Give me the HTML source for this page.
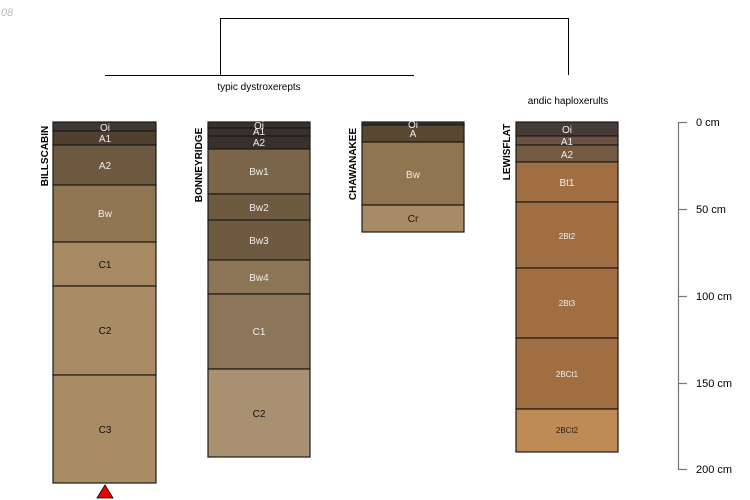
<!DOCTYPE html>
<html><head><meta charset="utf-8"><style>
html,body{margin:0;padding:0;background:#fff;}
svg{display:block;font-family:"Liberation Sans",sans-serif;}
</style></head><body>
<svg width="750" height="500" viewBox="0 0 750 500" xmlns="http://www.w3.org/2000/svg">
<text x="-2" y="16" font-size="11" fill="#bbb" font-style="italic">.08</text>
<!-- dendrogram -->
<g stroke="#000" stroke-width="1" fill="none">
<line x1="105" y1="75.5" x2="414" y2="75.5"/>
<line x1="220.5" y1="18" x2="220.5" y2="75"/>
<line x1="220" y1="18.5" x2="568" y2="18.5"/>
<line x1="568.5" y1="18" x2="568.5" y2="75"/>
</g>
<text x="259" y="90" font-size="10" text-anchor="middle">typic dystroxerepts</text>
<text x="568" y="104" font-size="10" text-anchor="middle">andic haploxerults</text>

<g stroke="#1a1a1a" stroke-width="1.2" font-size="10" text-anchor="middle">
<!-- Billscabin -->
<rect x="53" y="122" width="103" height="9" fill="#3f3731"/>
<rect x="53" y="131" width="103" height="14" fill="#4f4030"/>
<rect x="53" y="145" width="103" height="40" fill="#6c5940"/>
<rect x="53" y="185" width="103" height="57" fill="#8f7550"/>
<rect x="53" y="242" width="103" height="44" fill="#a88a62"/>
<rect x="53" y="286" width="103" height="89" fill="#a98c65"/>
<rect x="53" y="375" width="103" height="108" fill="#a98b64"/>
<!-- Bonneyridge -->
<rect x="208" y="122" width="102" height="6" fill="#3a302a"/>
<rect x="208" y="128" width="102" height="8" fill="#3a302a"/>
<rect x="208" y="136" width="102" height="13" fill="#3a302a"/>
<rect x="208" y="149" width="102" height="45" fill="#7a6548"/>
<rect x="208" y="194" width="102" height="26" fill="#6e5a40"/>
<rect x="208" y="220" width="102" height="40" fill="#6e5a40"/>
<rect x="208" y="260" width="102" height="34" fill="#8c7456"/>
<rect x="208" y="294" width="102" height="75" fill="#8c7558"/>
<rect x="208" y="369" width="102" height="88" fill="#a89070"/>
<!-- Chawanakee -->
<rect x="362" y="122" width="102" height="3" fill="#3a302a"/>
<rect x="362" y="125" width="102" height="17" fill="#5a4732"/>
<rect x="362" y="142" width="102" height="63" fill="#8f7550"/>
<rect x="362" y="205" width="102" height="27" fill="#a88b66"/>
<!-- Lewisflat -->
<rect x="516" y="122" width="102" height="14" fill="#463c37"/>
<rect x="516" y="136" width="102" height="9" fill="#6a5240"/>
<rect x="516" y="145" width="102" height="17" fill="#735a40"/>
<rect x="516" y="162" width="102" height="40" fill="#a06e40"/>
<rect x="516" y="202" width="102" height="66" fill="#a06e40"/>
<rect x="516" y="268" width="102" height="70" fill="#a06e40"/>
<rect x="516" y="338" width="102" height="71" fill="#a06e40"/>
<rect x="516" y="409" width="102" height="43" fill="#be8a55"/>
</g>
<g font-size="10" text-anchor="middle" fill="#eee">
<text x="105" y="131">Oi</text>
<text x="105" y="142">A1</text>
<text x="105" y="169">A2</text>
<text x="105" y="217">Bw</text>
<text x="105" y="268" fill="#111">C1</text>
<text x="105" y="334" fill="#111">C2</text>
<text x="105" y="433" fill="#111">C3</text>
<text x="259" y="129">Oi</text>
<text x="259" y="135">A1</text>
<text x="259" y="146">A2</text>
<text x="259" y="175">Bw1</text>
<text x="259" y="211">Bw2</text>
<text x="259" y="244">Bw3</text>
<text x="259" y="281">Bw4</text>
<text x="259" y="335">C1</text>
<text x="259" y="417" fill="#111">C2</text>
<text x="413" y="128">Oi</text>
<text x="413" y="137">A</text>
<text x="413" y="178">Bw</text>
<text x="413" y="222" fill="#111">Cr</text>
<text x="567" y="133">Oi</text>
<text x="567" y="145">A1</text>
<text x="567" y="158">A2</text>
<text x="567" y="186">Bt1</text>
<text x="567" y="239" font-size="8">2Bt2</text>
<text x="567" y="306" font-size="8">2Bt3</text>
<text x="567" y="377" font-size="8">2BCt1</text>
<text x="567" y="433" font-size="8" fill="#222">2BCt2</text>
</g>
<g font-size="10" font-weight="bold">
<text transform="translate(48,156) rotate(-90)" text-anchor="middle">BILLSCABIN</text>
<text transform="translate(202,165) rotate(-90)" text-anchor="middle">BONNEYRIDGE</text>
<text transform="translate(356,164) rotate(-90)" text-anchor="middle">CHAWANAKEE</text>
<text transform="translate(510,152) rotate(-90)" text-anchor="middle">LEWISFLAT</text>
</g>
<polygon points="105,485 97,498 113,498" fill="#e00" stroke="#000" stroke-width="0.8"/>
<!-- axis -->
<g stroke="#777" stroke-width="1.2">
<line x1="678.5" y1="122" x2="678.5" y2="469"/>
<line x1="678" y1="122.5" x2="687" y2="122.5"/>
<line x1="678" y1="209.5" x2="687" y2="209.5"/>
<line x1="678" y1="296.5" x2="687" y2="296.5"/>
<line x1="678" y1="383.5" x2="687" y2="383.5"/>
<line x1="678" y1="469.5" x2="687" y2="469.5"/>
</g>
<g font-size="11">
<text x="696" y="126">0 cm</text>
<text x="696" y="213">50 cm</text>
<text x="696" y="300">100 cm</text>
<text x="696" y="387">150 cm</text>
<text x="696" y="473">200 cm</text>
</g>
</svg>
</body></html>
